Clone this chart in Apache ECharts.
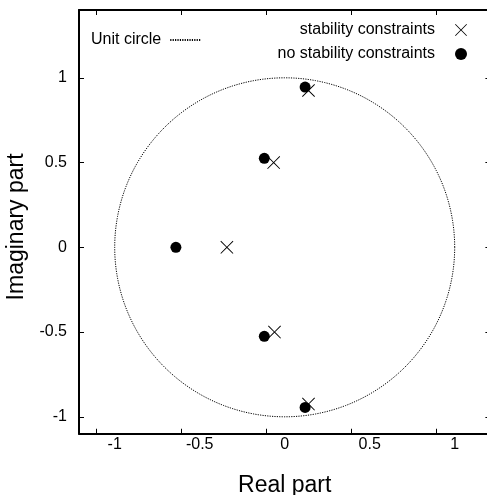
<!DOCTYPE html>
<html>
<head>
<meta charset="utf-8">
<script src="https://cdn.jsdelivr.net/npm/echarts@6/dist/echarts.min.js"></script>
<style>
  html, body { margin: 0; padding: 0; background: #fff; }
  #chart { width: 487px; height: 495px; }
</style>
</head>
<body>
<div id="chart"></div>
<script>
// poles
const withConstraints = [[0.14, 0.925], [-0.065, 0.50], [-0.34, 0], [-0.06, -0.50], [0.14, -0.925]]
const noConstraints = [[0.12, 0.945], [-0.12, 0.525], [-0.64, 0], [-0.12, -0.525], [0.12, -0.945]]
const xLabels = [-1, -0.5, 0, 0.5, 1]
const xTicks = [-1.11, -0.61, -0.11, 0.39, 0.89] // ticks are offset from labels in the original
const yTicks = [-1, -0.5, 0, 0.5, 1]

// unit circle |z| = 1
const circleSteps = 240
const unitCircle = []
for (let i = 0; i <= circleSteps; i++) {
  const t = 2 * Math.PI * i / circleSteps
  unitCircle.push([Math.cos(t), Math.sin(t)])
}

const font = 'Liberation Sans, Arial, sans-serif'
const crossPath = 'path://M0,1L1,0L10,9L19,0L20,1L11,10L20,19L19,20L10,11L1,20L0,19L9,10Z'

const chart = echarts.init(document.getElementById('chart'))
chart.setOption({
  animation: false,
  textStyle: { fontFamily: font, color: '#000' },
  grid: { left: 79, top: 10, width: 411.4, height: 423.75, outerBoundsMode: 'none', containLabel: false },
  legend: [{
    data: ['Unit circle'],
    left: 91,
    top: 32,
    padding: 0,
    align: 'right',
    itemWidth: 30,
    itemHeight: 10,
    itemStyle: { opacity: 0 },
    textStyle: { fontFamily: font, fontSize: 16, color: '#000', padding: [0, 4, 0, 0] }
  }, {
    data: ['stability constraints', 'no stability constraints'],
    orient: 'vertical',
    right: 20,
    top: 22,
    padding: 0,
    align: 'right',
    itemWidth: 12,
    itemHeight: 12,
    itemGap: 8,
    textStyle: { fontFamily: font, fontSize: 16, color: '#000', padding: [0, 15, 0, 0] }
  }],
  xAxis: [{
    type: 'value',
    min: -1.21,
    max: 1.21,
    position: 'bottom',
    name: 'Real part',
    nameLocation: 'middle',
    nameGap: 40,
    nameTextStyle: { fontFamily: font, fontSize: 23, color: '#000' },
    axisLine: { onZero: false, lineStyle: { color: '#000', width: 2 } },
    axisTick: { inside: true, length: 5, customValues: xTicks, lineStyle: { color: '#000' } },
    axisLabel: { customValues: xLabels, margin: 3, fontFamily: font, fontSize: 16, color: '#000' },
    splitLine: { show: false }
  }, {
    type: 'value',
    min: -1.21,
    max: 1.21,
    position: 'top',
    axisLine: { onZero: false, lineStyle: { color: '#000', width: 2 } },
    axisTick: { inside: true, length: 5, customValues: xTicks, lineStyle: { color: '#000' } },
    axisLabel: { show: false },
    splitLine: { show: false }
  }],
  yAxis: [{
    type: 'value',
    min: -1.1,
    max: 1.4,
    position: 'left',
    name: 'Imaginary part',
    nameLocation: 'middle',
    nameGap: 45,
    nameTextStyle: { fontFamily: font, fontSize: 23, color: '#000', padding: [0, 10, 0, 0] },
    axisLine: { onZero: false, lineStyle: { color: '#000', width: 2 } },
    axisTick: { inside: true, length: 5, customValues: yTicks, lineStyle: { color: '#000' } },
    axisLabel: { customValues: yTicks, margin: 12, fontFamily: font, fontSize: 16, color: '#000' },
    splitLine: { show: false }
  }, {
    type: 'value',
    min: -1.1,
    max: 1.4,
    position: 'right',
    axisLine: { onZero: false, lineStyle: { color: '#000', width: 2 } },
    axisTick: { inside: true, length: 5, customValues: yTicks, lineStyle: { color: '#000' } },
    axisLabel: { show: false },
    splitLine: { show: false }
  }],
  series: [{
    name: 'Unit circle',
    type: 'line',
    data: unitCircle,
    showSymbol: false,
    symbol: 'none',
    lineStyle: { color: '#000', width: 1, type: [1.2, 1.2] },
    itemStyle: { color: '#000' },
    z: 1
  }, {
    name: 'stability constraints',
    type: 'scatter',
    data: withConstraints,
    symbol: crossPath,
    symbolSize: 13,
    itemStyle: { color: '#000', opacity: 1 },
    z: 3
  }, {
    name: 'no stability constraints',
    type: 'scatter',
    data: noConstraints,
    symbol: 'circle',
    symbolSize: 11,
    itemStyle: { color: '#000', opacity: 1 },
    z: 2
  }]
})
</script>
</body>
</html>
